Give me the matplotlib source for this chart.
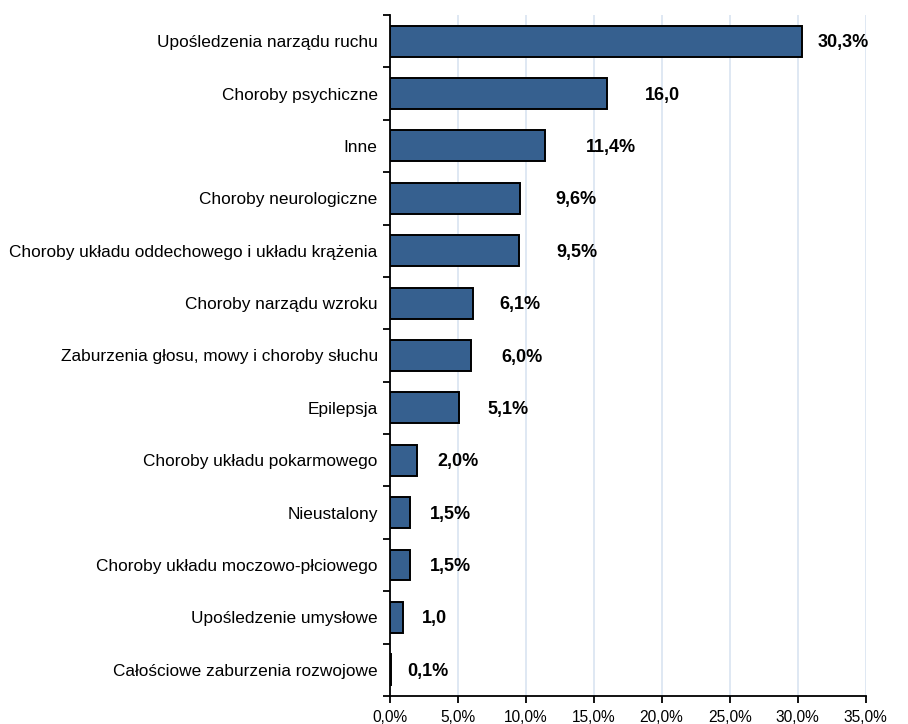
import numpy as np
import matplotlib
matplotlib.use("Agg")
from matplotlib import pyplot as plt
from matplotlib.ticker import FixedLocator, FuncFormatter

plt.rcParams['font.family'] = ['Liberation Sans', 'DejaVu Sans']

categories = [
    "Upośledzenia narządu ruchu",
    "Choroby psychiczne",
    "Inne",
    "Choroby neurologiczne",
    "Choroby układu oddechowego i układu krążenia",
    "Choroby narządu wzroku",
    "Zaburzenia głosu, mowy i choroby słuchu",
    "Epilepsja",
    "Choroby układu pokarmowego",
    "Nieustalony",
    "Choroby układu moczowo-płciowego",
    "Upośledzenie umysłowe",
    "Całościowe zaburzenia rozwojowe",
]
values = [30.3, 16.0, 11.4, 9.6, 9.5, 6.1, 6.0, 5.1, 2.0, 1.5, 1.5, 1.0, 0.1]
value_labels = ["30,3%", "16,0", "11,4%", "9,6%", "9,5%", "6,1%", "6,0%",
                "5,1%", "2,0%", "1,5%", "1,5%", "1,0", "0,1%"]
# gap between bar end and its label, in percentage points
label_gap = [1.2, 2.8, 3.0, 2.6, 2.8, 2.0, 2.2, 2.1, 1.5, 1.5, 1.5, 1.4, 1.2]

fig = plt.figure(figsize=(9.08, 7.24), dpi=100)
ax = fig.add_axes([0.429, 0.0387, 0.5244, 0.9406])

ypos = np.arange(len(categories))
ax.barh(ypos, values, height=0.59, color="#36608F", edgecolor="black",
        linewidth=1.4, zorder=3)

for y, v, lab, g in zip(ypos, values, value_labels, label_gap):
    ax.text(v + g, y + 0.03, lab, ha="left", va="center", fontsize=13,
            fontweight="bold", color="black")

ax.set_xlim(0, 35)
ax.set_ylim(len(categories) - 0.5, -0.5)
ax.set_xticks(np.arange(0, 36, 5))
ax.xaxis.set_major_formatter(FuncFormatter(lambda x, p: ("%.1f%%" % x).replace(".", ",")))
ax.grid(axis="x", color="#DCE6F2", linewidth=1.3, zorder=0)

ax.set_yticks(ypos)
ax.set_yticklabels(categories)
ax.yaxis.set_minor_locator(FixedLocator(np.arange(-0.5, len(categories), 1)))
ax.tick_params(axis="y", which="major", length=0, pad=8.5, labelsize=12.4)
ax.tick_params(axis="y", which="minor", length=5, width=1.3, direction="out")
ax.tick_params(axis="x", length=5, width=1.3, direction="out", labelsize=11.2, pad=5)

for s in ["top", "right"]:
    ax.spines[s].set_visible(False)
for s in ["left", "bottom"]:
    ax.spines[s].set_linewidth(1.3)

fig.savefig("out.png", dpi=100)
